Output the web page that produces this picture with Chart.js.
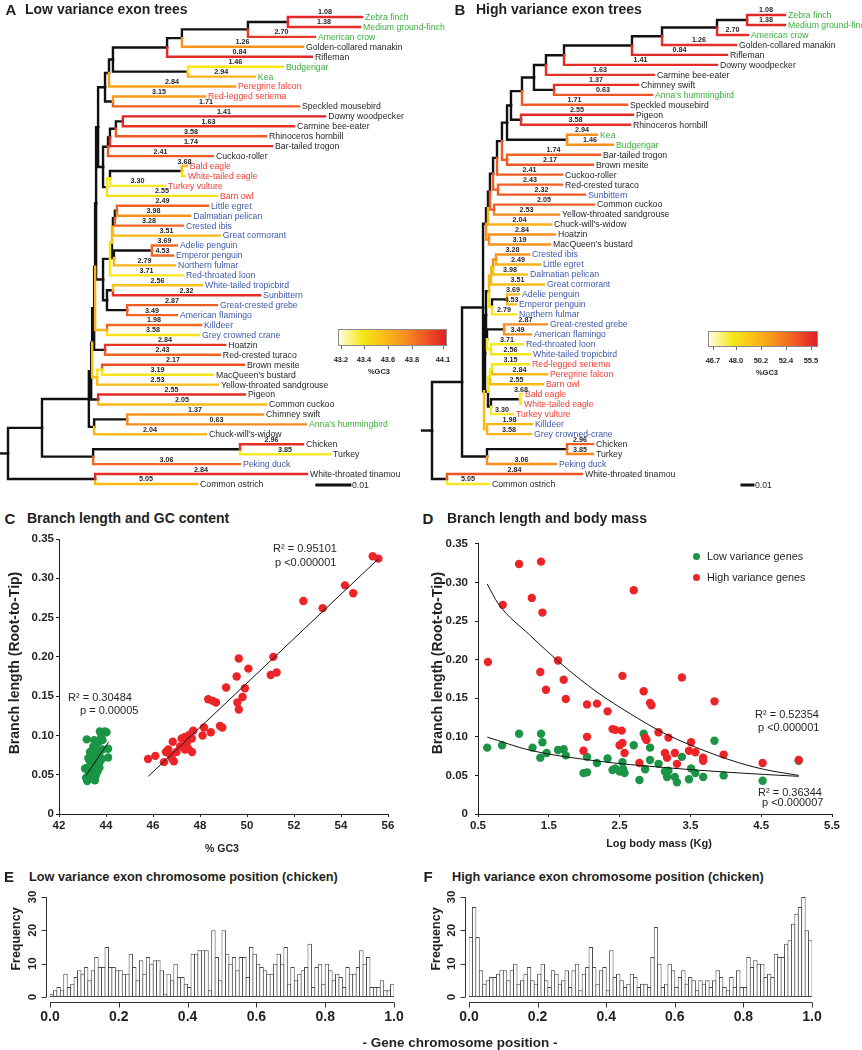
<!DOCTYPE html>
<html>
<head>
<meta charset="utf-8">
<script src="https://cdn.jsdelivr.net/npm/chart.js@4.4.0/dist/chart.umd.min.js"></script>
<style>
  body { margin: 0; background: #fff; }
  #fig { position: relative; width: 862px; height: 1050px; overflow: hidden; background: #fff;
         font-family: "Liberation Sans", Arial, Helvetica, sans-serif; color: #231f20; }
  canvas { position: absolute; }
  .t { position: absolute; white-space: nowrap; line-height: 1; }
  .c { transform: translate(-50%, -50%); }
  .m { transform: translateY(-50%); }
  .v { transform: translate(-50%, -50%) rotate(-90deg); }
  .lt { font-family: "Liberation Sans Narrow", "Liberation Sans", Arial, sans-serif; font-weight: bold; font-size: 15px; }
  .ttl { font-weight: bold; font-size: 14px; }
  .sub { font-weight: bold; font-size: 12.7px; }
  .yt { font-weight: bold; font-size: 14px; }
  .r2 { font-size: 11px; }
  .lg { font-size: 10.8px; }
  .cbl { font-weight: bold; font-size: 7.5px; }
  .dot { position: absolute; width: 7px; height: 7px; border-radius: 50%; }
  .cb { position: absolute; box-sizing: border-box; border: 1px solid #8a8a8a; }
  .tk { position: absolute; width: 1px; height: 3px; background: #666; }
</style>
</head>
<body>
<div id="fig">
  <canvas id="treeA" width="445" height="500" style="left:0;top:0"></canvas>
  <canvas id="treeB" width="444" height="500" style="left:418px;top:0"></canvas>
  <canvas id="scatC" width="430" height="320" style="left:0;top:530px"></canvas>
  <canvas id="scatD" width="432" height="320" style="left:430px;top:530px"></canvas>
  <canvas id="histE" width="430" height="165" style="left:0;top:885px"></canvas>
  <canvas id="histF" width="432" height="165" style="left:430px;top:885px"></canvas>

  <div class="t c lt" style="left:11px;top:9px">A</div>
  <div class="t m ttl" style="left:25px;top:9px">Low variance exon trees</div>
  <div class="t c lt" style="left:460px;top:9px">B</div>
  <div class="t m ttl" style="left:476px;top:9px">High variance exon trees</div>

  <div id="cbA" class="cb" style="left:338px;top:329px;width:109px;height:17px"></div>
  <div class="tk" style="left:341px;top:346px"></div>
  <div class="tk" style="left:364px;top:346px"></div>
  <div class="tk" style="left:388px;top:346px"></div>
  <div class="tk" style="left:412px;top:346px"></div>
  <div class="tk" style="left:443px;top:346px"></div>
  <div class="t c cbl" style="left:341px;top:360px">43.2</div>
  <div class="t c cbl" style="left:364px;top:360px">43.4</div>
  <div class="t c cbl" style="left:388px;top:360px">43.6</div>
  <div class="t c cbl" style="left:412px;top:360px">43.8</div>
  <div class="t c cbl" style="left:443px;top:360px">44.1</div>
  <div class="t c cbl" style="left:379px;top:372px">%GC3</div>

  <div id="cbB" class="cb" style="left:708px;top:331px;width:110px;height:16px"></div>
  <div class="tk" style="left:713px;top:347px"></div>
  <div class="tk" style="left:736px;top:347px"></div>
  <div class="tk" style="left:761px;top:347px"></div>
  <div class="tk" style="left:786px;top:347px"></div>
  <div class="tk" style="left:811px;top:347px"></div>
  <div class="t c cbl" style="left:713px;top:361px">46.7</div>
  <div class="t c cbl" style="left:736px;top:361px">48.0</div>
  <div class="t c cbl" style="left:761px;top:361px">50.2</div>
  <div class="t c cbl" style="left:786px;top:361px">52.4</div>
  <div class="t c cbl" style="left:811px;top:361px">55.5</div>
  <div class="t c cbl" style="left:767px;top:373px">%GC3</div>

  <div class="t c lt" style="left:10px;top:518px">C</div>
  <div class="t m ttl" style="left:27px;top:518px">Branch length and GC content</div>
  <div class="t c lt" style="left:428px;top:518px">D</div>
  <div class="t m ttl" style="left:447px;top:518px">Branch length and body mass</div>
  <div class="t v yt" style="left:14px;top:663px">Branch length (Root-to-Tip)</div>
  <div class="t v yt" style="left:437px;top:663px">Branch length (Root-to-Tip)</div>
  <div class="t c" style="left:222px;top:848px;font-weight:bold;font-size:10.5px">% GC3</div>
  <div class="t c" style="left:659px;top:843px;font-weight:bold;font-size:11px">Log body mass (Kg)</div>

  <div class="t m r2" style="left:273px;top:548px">R² = 0.95101</div>
  <div class="t m r2" style="left:275px;top:562px">p &lt;0.000001</div>
  <div class="t m r2" style="left:68px;top:697px">R² = 0.30484</div>
  <div class="t m r2" style="left:80px;top:710px">p = 0.00005</div>
  <div class="t m r2" style="left:755px;top:714px">R² = 0.52354</div>
  <div class="t m r2" style="left:758px;top:727px">p &lt;0.000001</div>
  <div class="t m r2" style="left:758px;top:792px">R² = 0.36344</div>
  <div class="t m r2" style="left:762px;top:802px">p &lt;0.000007</div>

  <div class="dot" style="left:692.5px;top:552.5px;background:#1b9446"></div>
  <div class="t m lg" style="left:707px;top:556px">Low variance genes</div>
  <div class="dot" style="left:692.5px;top:573.5px;background:#ec2427"></div>
  <div class="t m lg" style="left:707px;top:577px">High variance genes</div>

  <div class="t c lt" style="left:9px;top:876px">E</div>
  <div class="t m sub" style="left:29px;top:877px">Low variance exon chromosome position (chicken)</div>
  <div class="t c lt" style="left:428px;top:876px">F</div>
  <div class="t m sub" style="left:452px;top:877px">High variance exon chromosome position (chicken)</div>
  <div class="t v" style="left:16px;top:939px;font-weight:bold;font-size:12.5px">Frequency</div>
  <div class="t v" style="left:436px;top:939px;font-weight:bold;font-size:12.5px">Frequency</div>
  <div class="t c" style="left:460px;top:1043px;font-weight:bold;font-size:13.5px">- Gene chromosome position -</div>
</div>

<script>
const FONT = '"Liberation Sans", Arial, Helvetica, sans-serif';

// ---- A: low variance exon tree ----
const leavesA = ['Zebra finch', 'Medium ground-finch', 'American crow', 'Golden-collared manakin', 'Rifleman',
  'Budgerigar', 'Kea', 'Peregrine falcon', 'Red-legged seriema', 'Speckled mousebird', 'Downy woodpecker',
  'Carmine bee-eater', 'Rhinoceros hornbill', 'Bar-tailed trogon', 'Cuckoo-roller', 'Bald eagle',
  'White-tailed eagle', 'Turkey vulture', 'Barn owl', 'Little egret', 'Dalmatian pelican', 'Crested ibis',
  'Great cormorant', 'Adelie penguin', 'Emperor penguin', 'Northern fulmar', 'Red-throated loon',
  'White-tailed tropicbird', 'Sunbittern', 'Great-crested grebe', 'American flamingo', 'Killdeer',
  'Grey crowned crane', 'Hoatzin', 'Red-crested turaco', 'Brown mesite', "MacQueen's bustard",
  'Yellow-throated sandgrouse', 'Pigeon', 'Common cuckoo', 'Chimney swift', "Anna's hummingbird",
  "Chuck-will's-widow", 'Chicken', 'Turkey', 'Peking duck', 'White-throated tinamou', 'Common ostrich'];
const nameGroupA = 'GGGKKGGRRKKKKKKRRRRBBBBBBBBBBBBBBKKKKKKKKGKKKBKK'.split('');
const tipDepthA = [0.1073, 0.1067, 0.0930, 0.0894, 0.0921, 0.0833, 0.0748, 0.0688, 0.0597, 0.0882,
  0.0961, 0.0867, 0.0782, 0.0800, 0.0621, 0.0542, 0.0536, 0.0476, 0.0633, 0.0606,
  0.0552, 0.0530, 0.0642, 0.0512, 0.0500, 0.0506, 0.0530, 0.0588, 0.0764, 0.0633,
  0.0512, 0.0585, 0.0579, 0.0658, 0.0642, 0.0715, 0.0621, 0.0636, 0.0718, 0.0782,
  0.0773, 0.0903, 0.0600, 0.0894, 0.0976, 0.0703, 0.0906, 0.0573];
const tipGC3A = [44.07, 44.05, 44.02, 43.74, 44.06, 43.40, 43.62, 43.70, 43.72, 43.90,
  44.08, 44.04, 43.92, 44.06, 43.93, 43.58, 43.42, 43.39, 43.44, 43.90,
  43.75, 43.88, 43.60, 43.86, 43.88, 43.62, 43.40, 43.57, 44.05, 43.91,
  43.89, 43.87, 43.43, 44.03, 43.90, 43.95, 43.41, 43.58, 44.06, 43.60,
  43.74, 43.77, 43.59, 44.05, 43.38, 43.88, 44.06, 43.60];
const branchValA = ['1.08', '1.38', '2.70', '1.26', '0.84', '1.46', '2.94', '2.84', '3.15', '1.71',
  '1.41', '1.63', '3.58', '1.74', '2.41', '3.68', '', '3.30', '2.55', '2.49',
  '3.98', '3.28', '3.51', '3.69', '4.53', '2.79', '3.71', '2.56', '2.32', '2.87',
  '3.49', '1.98', '3.58', '2.84', '2.43', '2.17', '3.19', '2.53', '2.55', '2.05',
  '1.37', '0.63', '2.04', '2.96', '3.85', '3.06', '2.84', '5.05'];
const nodeIdA = ['root', 'neognath', 'neoaves', 's5', 's4', 's3', 's2', 's1', 'land', 'a2', 'austral',
  'psittpass', 'passer', 'p3', 'p2', 'p1', 'parrot', 'sermouse', 'a3', 'wb4', 'wb3', 'wb2', 'wb', 'acc2',
  'acc', 'eagle', 'water', 'w2', 'w1', 'e3', 'e2', 'e1', 'pf', 'peng', 'tg', 'ts', 'gf', 'charad',
  'hoatzin', 'otid', 'mb', 'columb', 'strisores', 'sa', 'gallo', 'gt', 'paleo'];
const nodeKidsA = [['neognath', 'paleo'], ['neoaves', 'gallo'], ['s5', 'strisores'], ['s4', 'columb'],
  ['s3', 'otid'], ['s2', 'hoatzin'], ['s1', 'charad'], ['land', 'water'], ['a2', 'a3'],
  ['austral', 'sermouse'], ['psittpass', 7], ['passer', 'parrot'], ['p3', 4], ['p2', 3], ['p1', 2], [0, 1],
  [5, 6], [8, 9], ['wb4', 'acc2'], ['wb3', 14], ['wb2', 13], ['wb', 12], [10, 11], ['acc', 18],
  ['eagle', 17], [15, 16], ['w2', 'tg'], ['w1', 26], ['e3', 'pf'], ['e2', 22], ['e1', 21], [19, 20],
  ['peng', 25], [23, 24], ['ts', 'gf'], [27, 28], [29, 30], [31, 32], [33, 34], ['mb', 37], [35, 36],
  [38, 39], ['sa', 42], [40, 41], ['gt', 45], [43, 44], [46, 47]];
const nodeDepthA = [0, 0.0103, 0.0245, 0.0252, 0.0255, 0.0261, 0.0264, 0.0267, 0.0273, 0.0294, 0.0306,
  0.0318, 0.0482, 0.0527, 0.0727, 0.0848, 0.0545, 0.0318, 0.0288, 0.0303, 0.0309, 0.0327, 0.0348, 0.0300,
  0.0309, 0.0527, 0.0288, 0.0309, 0.0315, 0.0318, 0.0324, 0.0330, 0.0321, 0.0436, 0.0300, 0.0318, 0.0361,
  0.0300, 0.0294, 0.0270, 0.0285, 0.0273, 0.0261, 0.0361, 0.0258, 0.0703, 0.0264];
const nodeGC3A = [null, null, null, null, null, null, null, null, null, null, null,
  null, null, null, null, null, null, null, null, null, null, null, null, null,
  43.40, null, null, null, 43.42, 43.60, null, null, null, null, null, null, null,
  43.62, null, 43.58, 43.41, null, null, null, null, null, null];
const gc3RangeA = [43.2, 44.1];

// ---- B: high variance exon tree ----
const leavesB = ['Zebra finch', 'Medium ground-finch', 'American crow', 'Golden-collared manakin', 'Rifleman',
  'Downy woodpecker', 'Carmine bee-eater', 'Chimney swift', "Anna's hummingbird", 'Speckled mousebird',
  'Pigeon', 'Rhinoceros hornbill', 'Kea', 'Budgerigar', 'Bar-tailed trogon', 'Brown mesite', 'Cuckoo-roller',
  'Red-crested turaco', 'Sunbittern', 'Common cuckoo', 'Yellow-throated sandgrouse', "Chuck-will's-widow",
  'Hoatzin', "MacQueen's bustard", 'Crested ibis', 'Little egret', 'Dalmatian pelican', 'Great cormorant',
  'Adelie penguin', 'Emperor penguin', 'Northern fulmar', 'Great-crested grebe', 'American flamingo',
  'Red-throated loon', 'White-tailed tropicbird', 'Red-legged seriema', 'Peregrine falcon', 'Barn owl',
  'Bald eagle', 'White-tailed eagle', 'Turkey vulture', 'Killdeer', 'Grey crowned-crane', 'Chicken',
  'Turkey', 'Peking duck', 'White-throated tinamou', 'Common ostrich'];
const nameGroupB = 'GGGKKKKKGKKKGGKKKKBKKKKKBBBBBBBBBBBRRRRRRBBKKBKK'.split('');
const tipDepthB = [0.3209, 0.3209, 0.2873, 0.2764, 0.2682, 0.2591, 0.2018, 0.1873, 0.2000, 0.1773,
  0.1827, 0.1800, 0.1500, 0.1645, 0.1527, 0.1464, 0.1182, 0.1182, 0.1391, 0.1473,
  0.1155, 0.1082, 0.1118, 0.1073, 0.0882, 0.0982, 0.0864, 0.1018, 0.0791, 0.0764,
  0.0764, 0.1045, 0.0900, 0.0827, 0.0891, 0.0882, 0.1045, 0.1009, 0.0818, 0.0809,
  0.0736, 0.0909, 0.0900, 0.1464, 0.1464, 0.1127, 0.1364, 0.0518];
const tipGC3B = [55.3, 55.2, 55.1, 55.0, 55.2, 55.1, 54.9, 55.0, 53.9, 53.7,
  55.1, 55.0, 52.2, 52.0, 53.6, 53.8, 53.7, 53.5, 53.8, 53.6,
  52.3, 50.8, 52.1, 52.0, 51.9, 50.9, 50.2, 50.6, 50.7, 50.5,
  48.6, 52.2, 52.0, 48.5, 48.8, 48.7, 50.6, 50.5, 48.4, 48.6,
  48.5, 50.7, 50.8, 53.6, 52.3, 52.1, 53.9, 48.5];
const branchValB = ['1.08', '1.38', '2.70', '1.26', '0.84', '1.41', '1.63', '1.37', '0.63', '1.71',
  '2.55', '3.58', '2.94', '1.46', '1.74', '2.17', '2.41', '2.43', '2.32', '2.05',
  '2.53', '2.04', '2.84', '3.19', '3.28', '2.49', '3.98', '3.51', '3.69', '4.53',
  '2.79', '2.87', '3.49', '3.71', '2.56', '3.15', '2.84', '2.55', '3.68', '',
  '3.30', '1.98', '3.58', '2.96', '3.85', '3.06', '2.84', '5.05'];
const nodeIdB = ['root', 'neognath', 'neoaves', 'b16', 'b15', 'b14', 'b13', 'b12', 'b11', 'b10', 'b9',
  'b8', 'b7', 'b6', 'b5', 'b4', 'b3', 'b2', 'b1', 'sh', 'ph', 'kb', 'tm', 'ts', 'cs', 'hb', 'wc', 'wb',
  'wa', 'wpp', 'we3', 'we2', 'wie', 'wpf', 'wpeng', 'wgl', 'wgf', 'wlt', 'wr', 'wsfb', 'wsf', 'wev',
  'weag', 'kc', 'gallo', 'ct', 'paleo'];
const nodeKidsB = [['neognath', 'paleo'], ['neoaves', 'gallo'], ['b16', 'wc'], ['b15', 'hb'], ['b14', 21],
  ['b13', 'cs'], ['b12', 'ts'], ['b11', 16], ['b10', 'tm'], ['b9', 'kb'], ['b8', 'ph'], ['b7', 9],
  ['b6', 'sh'], ['b5', 6], ['b4', 5], ['b3', 4], ['b2', 3], ['b1', 2], [0, 1], [7, 8], [10, 11], [12, 13],
  [14, 15], [17, 18], [19, 20], [22, 23], ['wb', 'kc'], ['wa', 'wr'], ['wpp', 'wgl'], ['we3', 'wpf'],
  ['we2', 27], ['wie', 26], [24, 25], ['wpeng', 30], [28, 29], ['wgf', 'wlt'], [31, 32], [33, 34],
  ['wsfb', 'wev'], ['wsf', 37], [35, 36], ['weag', 40], [38, 39], [41, 42], ['ct', 45], [43, 44], [46, 47]];
const nodeDepthB = [0, 0.0273, 0.0464, 0.0491, 0.0509, 0.0527, 0.0555, 0.0591, 0.0636, 0.0682, 0.0718,
  0.0818, 0.0927, 0.1036, 0.1200, 0.1818, 0.2091, 0.2591, 0.2864, 0.1109, 0.0809, 0.1227, 0.0682, 0.0600,
  0.0564, 0.0518, 0.0473, 0.0482, 0.0491, 0.0518, 0.0536, 0.0555, 0.0582, 0.0545, 0.0682, 0.0500, 0.0655,
  0.0536, 0.0509, 0.0527, 0.0545, 0.0536, 0.0800, 0.0500, 0.0500, 0.1227, 0.0136];
const nodeGC3B = [null, null, null, null, null, null, null, null, null, null, null,
  null, null, null, null, null, null, null, null, null, null, null, 53.7, 53.7,
  53.8, 52.2, null, null, null, null, 50.7, 50.6, 52.1, 48.7, null, null, null,
  48.6, null, 48.7, 48.6, null, null, 50.6, null, null, null];
const gc3RangeB = [46.7, 55.5];

// ---- C: branch length vs %GC3 ----
const lowC = [[43.18, 0.095], [43.74, 0.105], [43.95, 0.105], [44.02, 0.104], [43.85, 0.094], [43.70, 0.092],
  [43.60, 0.090], [44.09, 0.083], [44.09, 0.072], [43.46, 0.086], [43.55, 0.088], [43.32, 0.079], [43.45, 0.081],
  [43.62, 0.078], [43.75, 0.080], [43.85, 0.082], [43.40, 0.075], [43.50, 0.073], [43.60, 0.071], [43.74, 0.072],
  [43.30, 0.068], [43.42, 0.066], [43.52, 0.067], [43.62, 0.064], [43.72, 0.065], [43.82, 0.070], [43.11, 0.058],
  [43.28, 0.060], [43.43, 0.057], [43.52, 0.058], [43.64, 0.061], [43.72, 0.059], [43.26, 0.054], [43.38, 0.052],
  [43.50, 0.051], [43.62, 0.053], [43.25, 0.049], [43.40, 0.047], [43.55, 0.048], [43.20, 0.042], [43.33, 0.045],
  [43.53, 0.043], [43.15, 0.046], [43.66, 0.056], [43.36, 0.063], [43.25, 0.071], [43.50, 0.094], [43.80, 0.098]];
const highC = [[55.35, 0.328], [55.59, 0.325], [54.17, 0.291], [54.52, 0.281], [52.40, 0.271], [53.22, 0.262],
  [51.12, 0.200], [49.65, 0.198], [50.06, 0.185], [51.01, 0.177], [51.26, 0.180], [49.56, 0.175], [49.11, 0.161],
  [49.91, 0.160], [48.35, 0.146], [48.54, 0.144], [48.68, 0.142], [49.81, 0.149], [49.59, 0.142], [49.65, 0.133],
  [48.85, 0.112], [48.95, 0.110], [48.17, 0.110], [48.46, 0.104], [48.11, 0.100], [47.71, 0.106], [47.55, 0.101],
  [47.36, 0.098], [47.22, 0.096], [47.65, 0.096], [47.43, 0.090], [47.50, 0.083], [47.66, 0.079], [47.36, 0.082],
  [46.84, 0.092], [46.55, 0.079], [46.72, 0.076], [47.00, 0.079], [46.47, 0.066], [46.89, 0.067], [46.80, 0.071],
  [46.10, 0.074], [45.79, 0.070], [47.15, 0.086], [46.65, 0.082]];
const fitLowC = [[43.15, 0.049], [44.12, 0.092]];
const fitHighC = [[45.8, 0.048], [55.6, 0.325]];
const gcTicks = [42, 44, 46, 48, 50, 52, 54, 56];
const blTicks = [0, 0.05, 0.10, 0.15, 0.20, 0.25, 0.30, 0.35];

// ---- D: branch length vs log body mass ----
const lowD = [[0.63, 0.086], [0.84, 0.089], [1.08, 0.104], [1.27, 0.086], [1.38, 0.073], [1.39, 0.104],
  [1.41, 0.093], [1.47, 0.079], [1.63, 0.083], [1.71, 0.084], [1.74, 0.076], [1.99, 0.053], [2.04, 0.054],
  [2.04, 0.074], [2.18, 0.066], [2.33, 0.072], [2.40, 0.057], [2.44, 0.059], [2.50, 0.055], [2.54, 0.067],
  [2.55, 0.058], [2.57, 0.053], [2.70, 0.089], [2.78, 0.044], [2.84, 0.104], [2.86, 0.058], [2.93, 0.086],
  [2.93, 0.070], [3.05, 0.065], [3.14, 0.055], [3.17, 0.048], [3.19, 0.056], [3.28, 0.048], [3.31, 0.041],
  [3.38, 0.074], [3.48, 0.045], [3.51, 0.059], [3.57, 0.053], [3.68, 0.048], [3.84, 0.095], [3.97, 0.050],
  [4.52, 0.043], [5.03, 0.069]];
const highD = [[1.08, 0.324], [1.39, 0.327], [2.70, 0.290], [0.85, 0.271], [1.26, 0.280], [1.41, 0.261],
  [0.64, 0.197], [1.38, 0.184], [1.63, 0.199], [1.71, 0.174], [1.46, 0.161], [1.74, 0.149], [2.04, 0.142],
  [2.18, 0.143], [2.33, 0.133], [2.54, 0.179], [2.84, 0.159], [2.93, 0.144], [2.95, 0.141], [3.38, 0.177],
  [3.84, 0.146], [2.40, 0.110], [2.44, 0.109], [2.53, 0.108], [2.04, 0.100], [1.99, 0.082], [2.50, 0.089],
  [2.54, 0.092], [2.57, 0.079], [2.86, 0.099], [2.88, 0.096], [3.05, 0.106], [3.19, 0.099], [3.14, 0.079],
  [3.17, 0.073], [3.28, 0.079], [3.31, 0.065], [2.78, 0.066], [3.51, 0.093], [3.48, 0.082], [3.57, 0.080],
  [3.68, 0.073], [3.68, 0.069], [3.97, 0.077], [4.52, 0.066], [5.03, 0.070]];
const fitHighD = [[0.63, 0.298], [0.79, 0.272], [1.23, 0.232], [1.71, 0.192], [2.18, 0.158], [2.65, 0.130],
  [3.12, 0.105], [3.59, 0.086], [4.06, 0.070], [4.53, 0.058], [5.03, 0.050]];
const fitLowD = [[0.63, 0.0997], [1.23, 0.0827], [2.18, 0.0687], [3.12, 0.0603], [4.06, 0.0539], [5.03, 0.0488]];
const massTicks = [0.5, 1.5, 2.5, 3.5, 4.5, 5.5];

// ---- E / F: chromosome position histograms (100 bins of 0.01) ----
const histLow = [1, 2, 3, 2, 7, 3, 4, 6, 8, 7,
  9, 5, 8, 12, 9, 9, 15, 9, 9, 8,
  8, 7, 7, 13, 9, 5, 11, 7, 12, 10,
  11, 11, 8, 1, 7, 5, 10, 6, 6, 4,
  3, 13, 13, 14, 14, 14, 2, 20, 12, 5,
  20, 13, 10, 12, 8, 12, 12, 6, 15, 13,
  10, 9, 8, 7, 7, 10, 13, 10, 15, 4,
  9, 5, 7, 8, 9, 16, 3, 9, 10, 4,
  10, 8, 5, 7, 6, 3, 9, 7, 7, 9,
  14, 10, 12, 3, 3, 3, 5, 2, 2, 4];
const histHigh = [18, 27, 18, 8, 4, 5, 6, 6, 7, 8,
  8, 5, 8, 10, 4, 5, 7, 9, 5, 4,
  7, 10, 5, 3, 8, 7, 4, 5, 8, 3,
  8, 10, 2, 7, 9, 15, 9, 4, 8, 9,
  2, 14, 6, 7, 5, 3, 4, 7, 6, 3,
  4, 4, 3, 12, 21, 10, 3, 4, 10, 8,
  3, 6, 8, 4, 6, 5, 2, 5, 4, 5,
  3, 5, 8, 6, 3, 2, 6, 3, 8, 3,
  3, 12, 9, 11, 10, 10, 6, 7, 6, 13,
  12, 12, 16, 17, 22, 25, 27, 30, 20, 17];
const freqTicks = [0, 10, 20, 30];
const posTicks = [0, 0.2, 0.4, 0.6, 0.8, 1.0];

// ---------------------------------------------------------------
const nameColours = { G: '#3cae3f', R: '#ee3d34', B: '#3e5aa9', K: '#262626' };
const gcStops = [[0, [255, 253, 228]], [0.22, [245, 232, 22]], [0.42, [250, 190, 22]],
  [0.6, [247, 148, 29]], [0.8, [240, 90, 36]], [1, [226, 30, 38]]];

function gcColour(v, range) {
  if (v == null) return '#111';
  const t = Math.max(0, Math.min(1, (v - range[0]) / (range[1] - range[0])));
  for (let i = 1; i < gcStops.length; i++) {
    if (t <= gcStops[i][0]) {
      const [t0, c0] = gcStops[i - 1], [t1, c1] = gcStops[i];
      const f = (t - t0) / (t1 - t0);
      return 'rgb(' + c0.map((c, k) => Math.round(c + (c1[k] - c) * f)).join(',') + ')';
    }
  }
  return 'rgb(226,30,38)';
}

// colour bars
const grad = 'linear-gradient(to right,' +
  gcStops.map(s => 'rgb(' + s[1].join(',') + ') ' + (s[0] * 100) + '%').join(',') + ')';
document.getElementById('cbA').style.background = grad;
document.getElementById('cbB').style.background = grad;

const baseOpts = {
  responsive: false,
  animation: false,
  devicePixelRatio: 1,
  events: [],
  plugins: { legend: { display: false }, tooltip: { enabled: false } }
};

function treeChart(canvasId, t) {
  const idx = {};
  t.ids.forEach((id, i) => { idx[id] = i; });
  const yCache = {};
  function yOf(k) {
    if (typeof k === 'number') return k;
    if (yCache[k] == null) {
      const kids = t.kids[idx[k]];
      yCache[k] = kids.reduce((s, c) => s + yOf(c), 0) / kids.length;
    }
    return yCache[k];
  }
  const depthOf = k => typeof k === 'number' ? t.tip[k] : t.depth[idx[k]];
  const gcOf = k => typeof k === 'number' ? t.gc[k] : t.nodeGc[idx[k]];

  const parentDepth = [];
  const datasets = [];
  t.ids.forEach((id, i) => {
    const d = t.depth[i], y = yOf(id);
    t.kids[i].forEach(c => {
      if (typeof c === 'number') parentDepth[c] = d;
      const g = gcOf(c);
      datasets.push({
        data: [{ x: d, y: y }, { x: d, y: yOf(c) }, { x: depthOf(c), y: yOf(c) }],
        borderColor: gcColour(g, t.range),
        order: g == null ? 1 : 0
      });
    });
  });
  const rootY = yOf('root');
  datasets.push({ data: [{ x: t.stub, y: rootY }, { x: 0, y: rootY }], borderColor: '#111', order: 1 });
  datasets.push({ data: [{ x: t.bar, y: t.barRow }, { x: t.bar + 0.01, y: t.barRow }],
    borderColor: '#111', borderWidth: 3, order: 1 });
  datasets.forEach(ds => {
    ds.showLine = true;
    ds.pointRadius = 0;
    ds.fill = false;
  });

  const labels = {
    id: 'treeLabels',
    afterDatasetsDraw(chart) {
      const { ctx, scales: { x, y } } = chart;
      ctx.save();
      ctx.textBaseline = 'middle';
      t.names.forEach((n, i) => {
        const px = x.getPixelForValue(t.tip[i]), py = y.getPixelForValue(i);
        ctx.font = '8.7px ' + FONT;
        ctx.fillStyle = nameColours[t.group[i]];
        ctx.textAlign = 'left';
        ctx.fillText(n, px + 3, py + 0.5);
        if (t.vals[i]) {
          ctx.font = 'bold 7.2px ' + FONT;
          ctx.fillStyle = '#231f20';
          ctx.textAlign = 'center';
          const mid = (x.getPixelForValue(parentDepth[i]) + px) / 2;
          ctx.fillText(t.vals[i], mid, py - 4.5);
        }
      });
      ctx.font = '8.7px ' + FONT;
      ctx.fillStyle = '#231f20';
      ctx.textAlign = 'left';
      ctx.fillText('0.01', x.getPixelForValue(t.bar + 0.01) + 2, y.getPixelForValue(t.barRow) + 0.5);
      ctx.restore();
    }
  };

  new Chart(document.getElementById(canvasId), {
    type: 'scatter',
    data: { datasets },
    options: Object.assign({}, baseOpts, {
      layout: { padding: 0 },
      elements: { line: { borderWidth: 2.4, tension: 0, borderCapStyle: 'square', borderJoinStyle: 'miter' },
                  point: { radius: 0 } },
      scales: {
        x: { type: 'linear', display: false, bounds: 'data', min: t.xmin, max: t.xmax },
        y: { type: 'linear', display: false, bounds: 'data', min: t.ymin, max: t.ymax, reverse: true }
      }
    }),
    plugins: [labels]
  });
}

treeChart('treeA', {
  names: leavesA, group: nameGroupA, tip: tipDepthA, gc: tipGC3A, vals: branchValA,
  ids: nodeIdA, kids: nodeKidsA, depth: nodeDepthA, nodeGc: nodeGC3A, range: gc3RangeA,
  stub: -0.0024, bar: 0.0936, barRow: 47.1,
  xmin: -8 / 3300, xmax: -8 / 3300 + 445 / 3300, ymin: -1.711, ymax: -1.711 + 500 / 9.936
});
treeChart('treeB', {
  names: leavesB, group: nameGroupB, tip: tipDepthB, gc: tipGC3B, vals: branchValB,
  ids: nodeIdB, kids: nodeKidsB, depth: nodeDepthB, nodeGc: nodeGC3B, range: gc3RangeB,
  stub: -0.009, bar: 0.2818, barRow: 47.1,
  xmin: -14 / 1100, xmax: -14 / 1100 + 444 / 1100, ymin: -1.503, ymax: -1.503 + 500 / 9.979
});

// scatter panels
const pts = a => a.map(p => ({ x: p[0], y: p[1] }));
const tickFont = { family: FONT, size: 11.5, weight: 'bold' };
function axis(min, max, ticks, fmt, extra) {
  return Object.assign({
    type: 'linear', min, max, bounds: 'data',
    afterBuildTicks: s => { s.ticks = ticks.map(v => ({ value: v })); },
    ticks: { font: tickFont, color: '#231f20', callback: fmt, padding: 2, maxRotation: 0, autoSkip: false },
    grid: { display: true, drawOnChartArea: false, drawTicks: true, tickLength: 3, color: '#231f20' },
    border: { display: true, color: '#231f20', width: 1 }
  }, extra);
}
const blFmt = v => v === 0 ? '0' : v.toFixed(2);

function scatterChart(id, lowPts, highPts, fits, xAxis, yWidth, padRight, yPad) {
  const datasets = fits.map(f => ({
    data: pts(f), showLine: true, borderColor: '#111', borderWidth: 1, pointRadius: 0,
    tension: f.length > 2 ? 0.4 : 0, cubicInterpolationMode: 'monotone', order: 0
  }));
  datasets.push({ data: pts(highPts), backgroundColor: '#ec2427', pointRadius: 4.2, borderWidth: 0, order: 1 });
  datasets.push({ data: pts(lowPts), backgroundColor: '#1b9446', pointRadius: 4.2, borderWidth: 0, order: 2 });
  const yAxis = axis(0, 0.35, blTicks, blFmt, { afterFit: s => { s.width = yWidth; } });
  yAxis.ticks.padding = yPad;
  new Chart(document.getElementById(id), {
    type: 'scatter',
    data: { datasets },
    options: Object.assign({}, baseOpts, {
      layout: { padding: { top: 9, right: padRight, left: 0, bottom: 0 } },
      scales: { x: xAxis, y: yAxis }
    })
  });
}

scatterChart('scatC', lowC, highC, [fitLowC, fitHighC],
  axis(42, 56, gcTicks, v => String(v), { afterFit: s => { s.height = 36; } }), 59, 42, 2);
scatterChart('scatD', lowD, highD, [fitHighD, fitLowD],
  axis(0.5, 5.5, massTicks, v => v.toFixed(1), { afterFit: s => { s.height = 36; } }), 48, 30, 7);

// histograms with R-style detached axes
const rAxes = {
  id: 'rAxes',
  afterDraw(chart) {
    const { ctx, chartArea: a, scales } = chart;
    const xs = scales.x2, ys = scales.y;
    ctx.save();
    ctx.strokeStyle = '#333';
    ctx.fillStyle = '#231f20';
    ctx.lineWidth = 1;
    const yx = Math.round(a.left - 4) + 0.5;
    ctx.beginPath();
    ctx.moveTo(yx, ys.getPixelForValue(freqTicks[0]));
    ctx.lineTo(yx, ys.getPixelForValue(freqTicks[freqTicks.length - 1]));
    freqTicks.forEach(v => {
      const p = Math.round(ys.getPixelForValue(v)) + 0.5;
      ctx.moveTo(yx, p); ctx.lineTo(yx - 5, p);
    });
    const xy = Math.round(a.bottom + 5) + 0.5;
    ctx.moveTo(xs.getPixelForValue(posTicks[0]), xy);
    ctx.lineTo(xs.getPixelForValue(posTicks[posTicks.length - 1]), xy);
    posTicks.forEach(v => {
      const p = Math.round(xs.getPixelForValue(v)) + 0.5;
      ctx.moveTo(p, xy); ctx.lineTo(p, xy + 5);
    });
    ctx.stroke();
    ctx.textAlign = 'center';
    ctx.textBaseline = 'middle';
    ctx.font = 'bold 11.5px ' + FONT;
    freqTicks.forEach(v => {
      ctx.save();
      ctx.translate(yx - 14, ys.getPixelForValue(v));
      ctx.rotate(-Math.PI / 2);
      ctx.fillText(String(v), 0, 0);
      ctx.restore();
    });
    ctx.font = 'bold 14px ' + FONT;
    posTicks.forEach(v => ctx.fillText(v.toFixed(1), xs.getPixelForValue(v), xy + 15));
    ctx.restore();
  }
};

function histChart(id, counts, padLeft, padRight) {
  new Chart(document.getElementById(id), {
    type: 'bar',
    data: {
      labels: counts.map((c, i) => i),
      datasets: [{ data: counts, backgroundColor: '#fff', borderColor: '#4a4a4a', borderWidth: 1,
                   borderSkipped: false, barPercentage: 1.29, categoryPercentage: 1 }]
    },
    options: Object.assign({}, baseOpts, {
      layout: { padding: { left: padLeft, right: padRight, top: 12, bottom: 53 } },
      scales: {
        x: { display: false, offset: true },
        x2: { type: 'linear', display: false, offset: false, grid: { offset: false }, bounds: 'data',
              min: 0, max: 1, position: 'bottom' },
        y: { display: false, min: 0, max: 30 }
      }
    }),
    plugins: [rAxes]
  });
}
histChart('histE', histLow, 50, 36);
histChart('histF', histHigh, 39, 50);
</script>
</body>
</html>
